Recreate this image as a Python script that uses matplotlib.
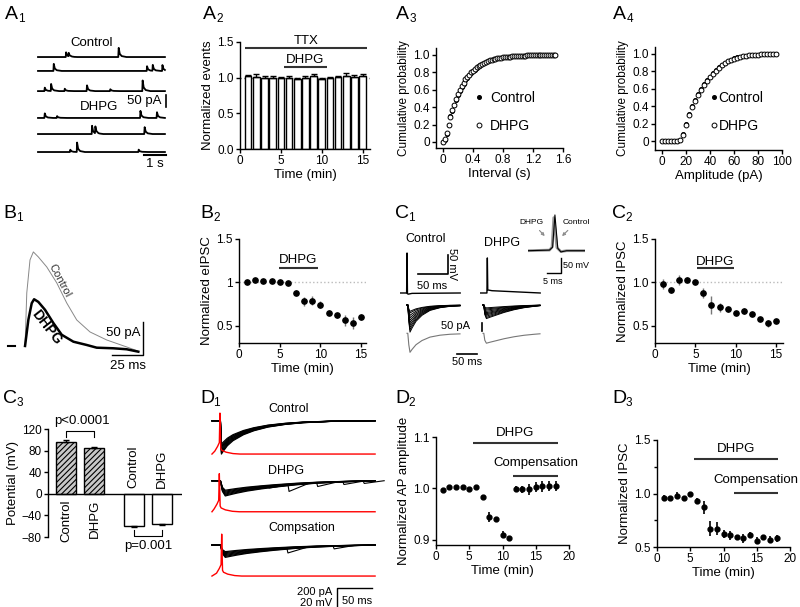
import numpy as np
import matplotlib
matplotlib.use("Agg")
import matplotlib.pyplot as plt

plt.rcParams['font.family'] = ['Liberation Sans', 'DejaVu Sans']
plt.rcParams['font.size'] = 9.5
plt.rcParams['axes.linewidth'] = 1.0
plt.rcParams['xtick.labelsize'] = 8.5
plt.rcParams['ytick.labelsize'] = 8.5
plt.rcParams['hatch.linewidth'] = 0.8

# ---------------- data ----------------
# A1: spontaneous events per sweep (time s, amplitude pA)
a1_times = [[1.26, 1.38, 3.65], [0.70, 4.94, 5.20, 5.64], [0.29, 0.58, 1.20, 2.21, 3.27, 4.74],
            [0.29, 0.85, 4.64, 5.39], [2.44, 2.59, 4.83], [1.45, 1.76, 4.56]]
a1_amps = [[20, 15, 40], [30, 20, 25, 25], [15, 30, 10, 25, 8, 45],
           [20, 8, 30, 25], [35, 30, 30], [10, 40, 10]]

# A2: normalized event counts
a2_time = list(range(1, 16))
a2_events = [1.02, 1.01, 1.00, 1.00, 1.00, 1.00, 0.98, 1.00, 1.02, 0.98, 0.99, 1.01, 1.03, 1.01, 1.02]
a2_err = [0.02, 0.04, 0.03, 0.02, 0.01, 0.02, 0.01, 0.02, 0.03, 0.01, 0.02, 0.02, 0.04, 0.03, 0.03]

# A3: cumulative probability of inter-event interval (0 - 1.5 s, 25 ms bins)
a3_ctrl = [0.0, 0.02, 0.09, 0.19, 0.30, 0.36, 0.42, 0.48, 0.54, 0.59, 0.63, 0.67, 0.71, 0.74,
           0.77, 0.79, 0.81, 0.83, 0.85, 0.87, 0.88, 0.895, 0.91, 0.92, 0.93, 0.938, 0.945,
           0.951, 0.956, 0.96, 0.964, 0.968, 0.971, 0.974, 0.977, 0.979, 0.981, 0.983, 0.985,
           0.987, 0.988, 0.99, 0.991, 0.992, 0.993, 0.994, 0.995, 0.995, 0.996, 0.997, 0.997,
           0.998, 0.998, 0.998, 0.999, 0.999, 0.999, 1.0, 1.0, 1.0, 1.0]
a3_dhpg = [0.0, 0.03, 0.10, 0.20, 0.29, 0.37, 0.43, 0.49, 0.55, 0.60, 0.64, 0.68, 0.72, 0.75,
           0.77, 0.80, 0.82, 0.84, 0.86, 0.87, 0.885, 0.90, 0.91, 0.92, 0.93, 0.94, 0.946,
           0.952, 0.957, 0.961, 0.965, 0.968, 0.972, 0.975, 0.977, 0.98, 0.982, 0.984, 0.985,
           0.987, 0.989, 0.99, 0.991, 0.992, 0.993, 0.994, 0.995, 0.996, 0.996, 0.997, 0.997,
           0.998, 0.998, 0.999, 0.999, 0.999, 1.0, 1.0, 1.0, 1.0, 1.0]
a3_interval = np.arange(len(a3_ctrl)) * 0.025

# A4: cumulative probability of amplitude
a4_amp = [0, 2.5, 5, 7.5, 10, 12.5, 15, 17.5, 20, 22.5, 25, 27.5, 30, 32.5, 35, 37.5, 40, 42.5,
          45, 47.5, 50, 52.5, 55, 57.5, 60, 62.5, 65, 67.5, 70, 72.5, 75, 77.5, 80, 82.5, 85,
          87.5, 90, 92.5, 95]
a4_ctrl = [0, 0, 0, 0, 0, 0, 0.01, 0.08, 0.19, 0.31, 0.40, 0.47, 0.54, 0.60, 0.65, 0.70, 0.74,
           0.78, 0.82, 0.85, 0.875, 0.90, 0.92, 0.935, 0.95, 0.96, 0.968, 0.975, 0.98, 0.984,
           0.987, 0.99, 0.992, 0.994, 0.996, 0.997, 0.998, 0.999, 1.0]
a4_dhpg = [0, 0, 0, 0, 0, 0, 0.01, 0.07, 0.18, 0.30, 0.39, 0.46, 0.53, 0.59, 0.64, 0.69, 0.73,
           0.77, 0.81, 0.84, 0.87, 0.895, 0.915, 0.93, 0.945, 0.957, 0.966, 0.973, 0.979,
           0.983, 0.987, 0.99, 0.992, 0.994, 0.996, 0.997, 0.998, 0.999, 1.0]

# B1: averaged eIPSC (ms, pA)
b1_ctrl_t = [0, 1.4, 4.0, 6.7, 10.7, 17.5, 25.6, 33.6, 41.7, 52.4, 65.9, 82.0, 91.0]
b1_ctrl_i = [0, 80.6, 130.7, 142.9, 135.3, 120.1, 95.8, 65.4, 39.5, 21.3, 9.1, -1.5, -7.6]
b1_dhpg_t = [0, 2.7, 5.4, 7.3, 10.7, 16.1, 22.8, 29.6, 39.0, 49.8, 57.8, 71.2, 82.0, 91.4]
b1_dhpg_i = [0, 40, 65, 71, 67, 55, 35, 17, 6.5, 1.5, -2.6, -3.5, -5, -8.7]

# B2, C2: normalized IPSC time course
b2_time = list(range(1, 16))
b2_ipsc = [1.00, 1.03, 1.02, 1.02, 1.00, 0.99, 0.88, 0.78, 0.79, 0.74, 0.65, 0.62, 0.56, 0.53, 0.60]
b2_err = [0.01, 0.01, 0.01, 0.01, 0.01, 0.01, 0.03, 0.05, 0.05, 0.04, 0.03, 0.03, 0.06, 0.07, 0.04]
c2_time = list(range(1, 16))
c2_ipsc = [0.98, 0.91, 1.03, 1.03, 1.00, 0.88, 0.74, 0.71, 0.69, 0.65, 0.67, 0.64, 0.58, 0.53, 0.55]
c2_err = [0.06, 0.03, 0.06, 0.03, 0.01, 0.06, 0.10, 0.05, 0.03, 0.02, 0.03, 0.02, 0.02, 0.04, 0.02]

# C1: presynaptic AP (ms, mV) and postsynaptic IPSCs (ms, normalized shape x amplitude)
c1_ap_ctrl_t = [0, 11.0, 11.7, 12.4, 14, 20, 100]
c1_ap_ctrl_v = [-60, -60, 45, -62, -63, -61, -60]
c1_ap_dhpg_t = [0, 11.5, 12.2, 12.9, 20, 60, 100]
c1_ap_dhpg_v = [-60, -60, 32, -52, -54, -57, -60]
c1_ctrl_t = [17.5, 19.5, 22, 25, 30, 40, 55, 75, 100, 125, 150]
c1_ctrl_shape = [0, 0, -0.6, -1, -0.85, -0.6, -0.38, -0.2, -0.1, -0.05, -0.03]
c1_ctrl_amps = [170, 155, 140, 125, 110, 95, 80, 65, 50, 40]
c1_dhpg_t = [17.5, 19.5, 22, 26, 35, 50, 70, 95, 120, 145, 160]
c1_dhpg_shape = [0, 0, -0.7, -1, -0.9, -0.75, -0.55, -0.35, -0.2, -0.1, -0.05]
c1_dhpg_amps = [85, 78, 70, 62, 55, 48, 40, 32, 25, 18]
c1_avg_amps = [119, 62]
c1_in_t_ctrl = [0, 7.5, 8.6, 9.4, 10.4, 11.5, 13.5, 19.9]
c1_in_v_ctrl = [0, 2, 12, 119, 8, -4, 0, 0]
c1_in_t_dhpg = [0, 7.5, 8.4, 9.0, 10.1, 11.5, 13.5, 19.9]
c1_in_v_dhpg = [0, 2, 12, 110, 10, -3, 0, 0]

# C3: AP peak / resting potential
c3_labels = ['Control', 'DHPG', 'Control', 'DHPG']
c3_values = [96, 84, -60, -56]
c3_err = [4, 3, 1.5, 1]

# D1: IPSC sweeps (ms, pA) and AP (mV)
d1_fast_t = [0, 12, 13.5, 16, 22, 30, 45, 60, 80, 105, 130, 170, 233]
d1_fast_shape = [0, 0, -1, -0.92, -0.75, -0.6, -0.42, -0.3, -0.19, -0.11, -0.06, -0.02, 0]
d1_slow_t = [0, 12, 15, 19, 25, 35, 50, 70, 90, 120, 150, 190, 233]
d1_slow_shape = [0, 0, -0.7, -1, -0.93, -0.82, -0.68, -0.54, -0.42, -0.27, -0.16, -0.07, 0]
d1_amps = [[350, 335, 320, 305, 290, 275, 260, 245],
           [160, 150, 140, 130, 120, 110, 100],
           [130, 120, 110, 100, 90, 80, 70]]
d1_extra = [[], [(80, 15), (108.6, 70), (149.5, 40), (187, 30), (216, 25)], [(107, 50), (173, 30)]]
d1_ap_t = [0, 4, 8, 10.5, 11.4, 12.6, 14, 20, 30, 40, 233]
d1_ap_mv = [0, 3, 8, 12, 43, 6, 4, 2, 0.5, 0, 0]
d1_ap_shift = [0, -0.9, 2.5]
d1_ap_peak = [43, 40, 44]

# D2, D3
d_time = list(range(1, 19))
d2_amp = [0.997, 1.003, 1.003, 1.002, 0.999, 1.003, 0.983, 0.945, 0.940, 0.910, 0.903,
          0.999, 0.998, 0.998, 1.003, 1.004, 1.005, 1.005]
d2_err = [0.002, 0.002, 0.002, 0.002, 0.002, 0.002, 0.003, 0.01, 0.005, 0.007, 0.005,
          0.005, 0.006, 0.01, 0.01, 0.01, 0.01, 0.01]
d3_ipsc = [0.96, 0.96, 0.98, 0.96, 1.00, 0.93, 0.87, 0.67, 0.67, 0.62, 0.61, 0.59, 0.58,
           0.61, 0.56, 0.59, 0.57, 0.58]
d3_err = [0.03, 0.02, 0.03, 0.02, 0.01, 0.03, 0.06, 0.07, 0.06, 0.04, 0.04, 0.02, 0.04,
          0.03, 0.03, 0.02, 0.03, 0.03]

# ---------------- layout helpers ----------------
W, H = 800, 607
fig = plt.figure(figsize=(8, 6.07), dpi=100)


def box(l, t, r, b):
    return fig.add_axes([l / W, 1 - b / H, (r - l) / W, (b - t) / H])


def ftext(x, y, s, **kw):
    kw.setdefault('ha', 'center')
    kw.setdefault('va', 'center')
    fig.text(x / W, 1 - y / H, s, **kw)


def panel(x, y, letter, num):
    fig.text(x / W, 1 - y / H, letter, fontsize=14, va='baseline')
    fig.text((x + 13.5) / W, 1 - (y + 3) / H, num, fontsize=8.5, va='baseline')


def style(ax):
    ax.spines['top'].set_visible(False)
    ax.spines['right'].set_visible(False)
    ax.tick_params(direction='out', length=3, width=1, pad=1.5)


def bar_label(ax, x0, x1, y, ty, s, color='#333333'):
    ax.plot([x0, x1], [y, y], color=color, lw=1.5, clip_on=False, solid_capstyle='butt')
    ax.text((x0 + x1) / 2, ty, s, ha='center', va='center', fontsize=9.5)


for args in [(5, 19, 'A', '1'), (203, 19, 'A', '2'), (396, 19, 'A', '3'), (613, 19, 'A', '4'),
             (3, 218, 'B', '1'), (200, 218, 'B', '2'), (395, 218, 'C', '1'), (612, 218, 'C', '2'),
             (3, 403, 'C', '3'), (200, 403, 'D', '1'), (395, 403, 'D', '2'), (612, 403, 'D', '3')]:
    panel(*args)

# ---------------- A1 ----------------
ax = box(30, 40, 175, 170)
ax.axis('off')
ax.set_xlim(-0.364, 6.227)
ax.set_ylim(0, 542)
a1_offsets = [471, 413, 329, 217, 150, 75]
kern_t = [-0.01, 0.0, 0.015, 0.06, 0.15, 0.35]
kern_v = [0, 0, 1, 0.35, 0.1, 0]
tt = np.arange(0, 5.77, 0.004)
for base, times, amps in zip(a1_offsets, a1_times, a1_amps):
    yy = np.full_like(tt, base, dtype=float)
    for t0, a in zip(times, amps):
        yy += a * np.interp(tt - t0, kern_t, kern_v)
    ax.plot(tt, yy, color='black', lw=1.3)
ax.plot([5.8, 5.8], [263, 313], color='black', lw=1.2, clip_on=False)
ax.plot([4.8, 5.8], [62.5, 62.5], color='black', lw=1.5, clip_on=False)
ax.text(5.6, 288, '50 pA', ha='right', va='center')
ax.text(5.3, 25, '1 s', ha='center', va='center')
ax.text(2.45, 530, 'Control', ha='center', va='center')
ax.text(2.77, 263, 'DHPG', ha='center', va='center')

# ---------------- A2 ----------------
ax = box(240, 42, 370, 149)
style(ax)
ax.axhline(1, color='gray', ls=':', lw=1, zorder=1)
ax.bar(a2_time, a2_events, width=0.8, color='white', edgecolor='black', lw=1, zorder=2)
ax.errorbar(a2_time, a2_events, yerr=[np.zeros(len(a2_err)), a2_err], fmt='none',
            ecolor='black', elinewidth=1, capsize=2, zorder=3)
ax.set_xlim(0, 15.9)
ax.set_ylim(0, 1.5)
ax.set_xticks([0, 5, 10, 15])
ax.set_yticks([0, 0.5, 1.0, 1.5])
ax.set_yticklabels(['0.0', '0.5', '1.0', '1.5'])
ax.set_xlabel('Time (min)', labelpad=1)
ax.set_ylabel('Normalized events', labelpad=2)
bar_label(ax, 0.6, 15.5, 1.41, 1.52, 'TTX')
bar_label(ax, 5.4, 10.6, 1.154, 1.25, 'DHPG')

# ---------------- A3 ----------------
ax = box(436, 48, 563, 148)
style(ax)
ax.plot(a3_interval, a3_ctrl, 'o', ms=2.6, color='black', label='Control')
ax.plot(a3_interval, a3_dhpg, 'o', ms=3.5, mfc='white', mec='black', mew=0.7, label='DHPG')
ax.set_xlim(-0.093, 1.6)
ax.set_ylim(-0.07, 1.08)
ax.set_xticks([0, 0.4, 0.8, 1.2, 1.6])
ax.set_xticklabels(['0', '0.4', '0.8', '1.2', '1.6'])
ax.set_yticks([0, 0.2, 0.4, 0.6, 0.8, 1.0])
ax.set_yticklabels(['0', '0.2', '0.4', '0.6', '0.8', '1.0'])
ax.set_xlabel('Interval (s)', labelpad=1)
ax.set_ylabel('Cumulative probability', labelpad=2, fontsize=8.5)
ax.legend(loc='center left', bbox_to_anchor=(0.24, 0.36), frameon=False, handlelength=0.8,
          handletextpad=0.4, labelspacing=1.0, borderpad=0, fontsize=10)

# ---------------- A4 ----------------
ax = box(655, 47, 782, 150)
style(ax)
ax.plot(a4_amp, a4_ctrl, 'o', ms=2.6, color='black', label='Control')
ax.plot(a4_amp, a4_dhpg, 'o', ms=3.5, mfc='white', mec='black', mew=0.7, label='DHPG')
ax.set_xlim(-5.8, 100)
ax.set_ylim(-0.103, 1.08)
ax.set_xticks([0, 20, 40, 60, 80, 100])
ax.set_yticks([0, 0.2, 0.4, 0.6, 0.8, 1.0])
ax.set_yticklabels(['0', '0.2', '0.4', '0.6', '0.8', '1.0'])
ax.set_xlabel('Amplitude (pA)', labelpad=1)
ax.set_ylabel('Cumulative probability', labelpad=2, fontsize=8.5)
ax.legend(loc='center left', bbox_to_anchor=(0.38, 0.37), frameon=False, handlelength=0.5,
          handletextpad=0.1, labelspacing=1.0, borderpad=0, fontsize=10)

# ---------------- B1 ----------------
ax = box(0, 240, 150, 370)
ax.axis('off')
ax.set_xlim(-20.2, 100.8)
ax.set_ylim(-36.5, 161)
ax.plot(b1_ctrl_t, b1_ctrl_i, color='#888888', lw=0.7)
ax.plot(b1_dhpg_t, b1_dhpg_i, color='black', lw=1.8)
ax.plot([-13.7, -8], [0, 0], color='black', lw=1.5)
ax.plot([70, 95, 95], [-13.7, -13.7, 36.3], color='black', lw=1)
ax.text(93, 20, '50 pA', ha='right', va='center')
ax.text(83, -30, '25 ms', ha='center', va='center')
ax.text(28, 100, 'Control', rotation=-62, ha='center', va='center', fontsize=8, color='#333333')
ax.text(17.5, 29, 'DHPG', rotation=-52, ha='center', va='center', fontsize=10, fontweight='bold')

# ---------------- B2 ----------------
ax = box(239, 239, 366, 343)
style(ax)
ax.axhline(1, color='#bbbbbb', ls=':', lw=1)
ax.errorbar(b2_time, b2_ipsc, yerr=b2_err, fmt='o', ms=3.8, color='black', ecolor='#777777',
            elinewidth=1, capsize=0)
ax.set_xlim(0, 15.6)
ax.set_ylim(0.3, 1.5)
ax.set_xticks([0, 5, 10, 15])
ax.set_yticks([0.5, 1, 1.5])
ax.set_yticklabels(['0.5', '1', '1.5'])
ax.set_xlabel('Time (min)', labelpad=1)
ax.set_ylabel('Normalized eIPSC', labelpad=2)
bar_label(ax, 4.9, 9.7, 1.16, 1.26, 'DHPG')

# ---------------- C1 ----------------
ax = box(400, 245, 465, 300)
ax.axis('off')
ax.set_xlim(0, 108)
ax.set_ylim(-78.4, 66)
ax.plot(c1_ap_ctrl_t, c1_ap_ctrl_v, color='black', lw=1)
ax.plot([30, 80, 80], [-10, -10, 40], color='black', lw=1.2, clip_on=False)
ax.text(86, 15, '50 mV', rotation=-90, ha='center', va='center', fontsize=8)
ax.text(53, -41, '50 ms', ha='center', va='center', fontsize=8)
ftext(426, 239, 'Control', fontsize=9)

ax = box(480, 245, 545, 300)
ax.axis('off')
ax.set_xlim(0, 108)
ax.set_ylim(-78.4, 66)
ax.plot(c1_ap_dhpg_t, c1_ap_dhpg_v, color='black', lw=1)
ftext(502, 243, 'DHPG', fontsize=9)

ax = box(400, 298, 470, 360)
ax.axis('off')
ax.set_xlim(0, 175)
ax.set_ylim(-344, 43.75)
for a in c1_ctrl_amps:
    ax.plot(c1_ctrl_t, np.array(c1_ctrl_shape) * a, color='black', lw=0.7)
ax.plot(c1_ctrl_t, np.array(c1_ctrl_shape) * c1_avg_amps[0] - 177, color='#777777', lw=0.8)
ax.plot([141.75, 191.75], [-306, -306], color='black', lw=1.2, clip_on=False)
ftext(467, 362, '50 ms', fontsize=8)
ftext(470, 326, '50 pA', fontsize=8, ha='right')

ax = box(476, 298, 546, 360)
ax.axis('off')
ax.set_xlim(0, 175)
ax.set_ylim(-344, 43.75)
for a in c1_dhpg_amps:
    ax.plot(c1_dhpg_t, np.array(c1_dhpg_shape) * a, color='black', lw=0.7)
ax.plot(c1_dhpg_t, np.array(c1_dhpg_shape) * c1_avg_amps[1] - 177, color='#777777', lw=0.8)
ax.plot([14.25, 14.25], [-112.5, -162.5], color='black', lw=1.2)

ax = box(528, 210, 585, 255)
ax.axis('off')
ax.set_xlim(0, 19.9)
ax.set_ylim(-14.3, 135.5)
ax.plot(c1_in_t_dhpg, c1_in_v_dhpg, color='#999999', lw=2)
ax.plot(c1_in_t_ctrl, c1_in_v_ctrl, color='black', lw=0.8)
ax.plot([6.5, 11.5, 11.5], [-74.3, -74.3, -24.3], color='black', lw=1, clip_on=False)
arrow = dict(arrowstyle='-|>,head_width=0.15,head_length=0.3', fc='white', ec='#888888', lw=0.8)
ax.annotate('DHPG', xy=(6.5, 42), xytext=(1.3, 95), ha='center', va='center', fontsize=6,
            arrowprops=arrow, annotation_clip=False)
ax.annotate('Control', xy=(11.2, 42), xytext=(16.8, 95), ha='center', va='center', fontsize=6,
            arrowprops=arrow, annotation_clip=False)
ftext(563, 265.7, '50 mV', fontsize=6.5, ha='left')
ftext(553, 281, '5 ms', fontsize=6.5)

# ---------------- C2 ----------------
ax = box(655, 239, 783, 343)
style(ax)
ax.axhline(1, color='#bbbbbb', ls=':', lw=1)
ax.errorbar(c2_time, c2_ipsc, yerr=c2_err, fmt='o', ms=3.8, color='black', ecolor='#777777',
            elinewidth=1, capsize=0)
ax.set_xlim(0, 15.87)
ax.set_ylim(0.3, 1.5)
ax.set_xticks([0, 5, 10, 15])
ax.set_yticks([0.5, 1.0, 1.5])
ax.set_yticklabels(['0.5', '1.0', '1.5'])
ax.set_xlabel('Time (min)', labelpad=1)
ax.set_ylabel('Normalized IPSC', labelpad=2)
bar_label(ax, 5.2, 9.8, 1.16, 1.24, 'DHPG')

# ---------------- C3 ----------------
ax = box(48, 429, 182, 537)
ax.spines['top'].set_visible(False)
ax.spines['right'].set_visible(False)
ax.spines['bottom'].set_visible(False)
ax.tick_params(axis='y', direction='out', length=3, width=1, pad=1.5)
ax.set_xticks([])
c3_pos = [0, 1, 2.37, 3.37]
ax.bar(c3_pos[:2], c3_values[:2], width=0.7, color='#c8c8c8', hatch='//////',
       edgecolor='black', lw=1, zorder=2)
ax.bar(c3_pos[2:], c3_values[2:], width=0.7, color='white', edgecolor='black', lw=1, zorder=2)
low = [0, 0, c3_err[2], c3_err[3]]
up = [c3_err[0], c3_err[1], 0, 0]
ax.errorbar(c3_pos, c3_values, yerr=[low, up], fmt='none', ecolor='black', elinewidth=1,
            capsize=2.5, zorder=3)
ax.axhline(0, color='black', lw=1, zorder=4)
ax.set_xlim(-0.63, 4.07)
ax.set_ylim(-80, 120)
ax.set_yticks([-80, -40, 0, 40, 80, 120])
ax.set_ylabel('Potential (mV)', labelpad=2)
for p, lab, v in zip(c3_pos, c3_labels, c3_values):
    if v > 0:
        ax.text(p, -11, lab, rotation=90, ha='center', va='top')
    else:
        ax.text(p, 11, lab, rotation=90, ha='center', va='bottom')
ax.plot([c3_pos[0], c3_pos[0], c3_pos[1], c3_pos[1]], [106, 117, 117, 106], color='black',
        lw=0.8, clip_on=False)
ax.text(0.55, 135, 'p<0.0001', ha='center', va='center', clip_on=False)
ax.plot([c3_pos[2], c3_pos[2], c3_pos[3], c3_pos[3]], [-67, -77.6, -77.6, -67], color='black',
        lw=0.8, clip_on=False)
ax.text(2.87, -96, 'p=0.001', ha='center', va='center', clip_on=False)

# ---------------- D1 ----------------
ax = box(200, 400, 400, 607)
ax.axis('off')
ax.set_xlim(-17.1, 268.6)
ax.set_ylim(0, 2173.5)
d1_base = [1956, 1326, 651]
d1_red_base = [1606, 1000, 325]
templates = [(d1_fast_t, d1_fast_shape), (d1_slow_t, d1_slow_shape), (d1_slow_t, d1_slow_shape)]
for g in range(3):
    tt_, sh = templates[g]
    sh = np.array(sh)
    for a in d1_amps[g]:
        ax.plot(tt_, d1_base[g] + sh * a, color='black', lw=0.9)
    a_ref = d1_amps[g][len(d1_amps[g]) // 2]
    for t0, ea in d1_extra[g]:
        y0 = d1_base[g] + a_ref * np.interp(t0, tt_, sh)
        y1 = d1_base[g] + a_ref * np.interp(t0 + 30, tt_, sh)
        ax.plot([t0, t0 + 1.5, t0 + 30], [y0, y0 - ea, y1], color='black', lw=0.8)
    ap = list(d1_ap_mv)
    ap[4] = d1_ap_peak[g]
    ax.plot(np.array(d1_ap_t) + d1_ap_shift[g] * np.array([0, 1, 1, 1, 1, 1, 1, 1, 1, 1, 0]),
            d1_red_base[g] + np.array(ap) * 10, color='red', lw=1)
ax.plot([178.6, 178.6, 228.6], [-20, 199.5, 199.5], color='black', lw=1, clip_on=False)
ftext(289, 409, 'Control', fontsize=9)
ftext(286, 471, 'DHPG', fontsize=9)
ftext(302, 528, 'Compsation', fontsize=9)
ftext(332, 592, '200 pA', fontsize=8, ha='right')
ftext(332, 603, '20 mV', fontsize=8, ha='right')
ftext(342, 601, '50 ms', fontsize=8, ha='left')

# ---------------- D2 ----------------
ax = box(436, 437, 569, 545)
style(ax)
ax.errorbar(d_time, d2_amp, yerr=d2_err, fmt='o', ms=3.5, color='black', ecolor='black',
            elinewidth=1.2, capsize=0)
ax.set_xlim(0, 20)
ax.set_ylim(0.89, 1.1)
ax.set_xticks([0, 5, 10, 15, 20])
ax.set_yticks([0.9, 1.0, 1.1])
ax.set_yticklabels(['0.9', '1.0', '1.1'])
ax.set_xlabel('Time (min)', labelpad=1)
ax.set_ylabel('Normalized AP amplitude', labelpad=2)
bar_label(ax, 5.6, 18.3, 1.088, 1.108, 'DHPG')
bar_label(ax, 11.6, 18.3, 1.025, 1.05, 'Compensation')

# ---------------- D3 ----------------
ax = box(657, 440, 790, 547)
style(ax)
ax.errorbar(d_time, d3_ipsc, yerr=d3_err, fmt='o', ms=3.5, color='black', ecolor='black',
            elinewidth=1.2, capsize=0)
ax.set_xlim(0, 20)
ax.set_ylim(0.5, 1.5)
ax.set_xticks([0, 5, 10, 15, 20])
ax.set_yticks([0.5, 1.0, 1.5])
ax.set_yticks([0.75, 1.25], minor=True)
ax.tick_params(which='minor', length=2, width=1)
ax.set_yticklabels(['0.5', '1.0', '1.5'])
ax.set_xlabel('Time (min)', labelpad=1)
ax.set_ylabel('Normalized IPSC', labelpad=2)
bar_label(ax, 5.6, 18.2, 1.32, 1.42, 'DHPG')
bar_label(ax, 11.6, 18.2, 1.005, 1.126, 'Compensation')

fig.savefig('out.png', dpi=100, facecolor='white')
